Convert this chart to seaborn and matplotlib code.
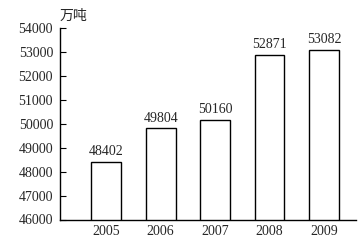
import matplotlib
matplotlib.use("Agg")
import matplotlib.pyplot as plt
import seaborn as sns
import pandas as pd

years = ["2005", "2006", "2007", "2008", "2009"]
values = [48402, 49804, 50160, 52871, 53082]
yticks = [46000, 47000, 48000, 49000, 50000, 51000, 52000, 53000, 54000]
unit_label = "万吨"

sns.set_theme(style="white")
plt.rcParams["font.family"] = ["Liberation Serif", "Noto Sans CJK SC"]

df = pd.DataFrame({"year": years, "value": values})

fig = plt.figure(figsize=(3.62, 2.42), dpi=100)
ax = fig.add_axes([60/362, 1-219.5/242, (356-60)/362, (219.5-28)/242])

sns.barplot(data=df, x="year", y="value", color="white", edgecolor="black",
            linewidth=1.0, width=0.55, ax=ax, saturation=1)

ax.set_ylim(46000, 54000)
ax.set_xlim(-0.85, 4.59)
ax.set_yticks(yticks)
ax.set_yticklabels([str(t) for t in yticks], fontsize=10)
ax.set_xticklabels(years, fontsize=10)
ax.set_xlabel("")
ax.set_ylabel("")
ax.tick_params(axis="y", direction="in", length=4, width=0.8, color="black", pad=5, left=True)
ax.tick_params(axis="x", length=0, pad=4)
for s in ["top", "right"]:
    ax.spines[s].set_visible(False)
for s in ["left", "bottom"]:
    ax.spines[s].set_color("black")
    ax.spines[s].set_linewidth(1.0)

for i, v in enumerate(values):
    ax.text(i, v + 150, str(v), ha="center", va="bottom", fontsize=10)

ax.text(-0.85, 54200, unit_label, ha="left", va="bottom", fontsize=10,
        family=["Noto Sans CJK SC"])

fig.savefig("out.png", dpi=100)
